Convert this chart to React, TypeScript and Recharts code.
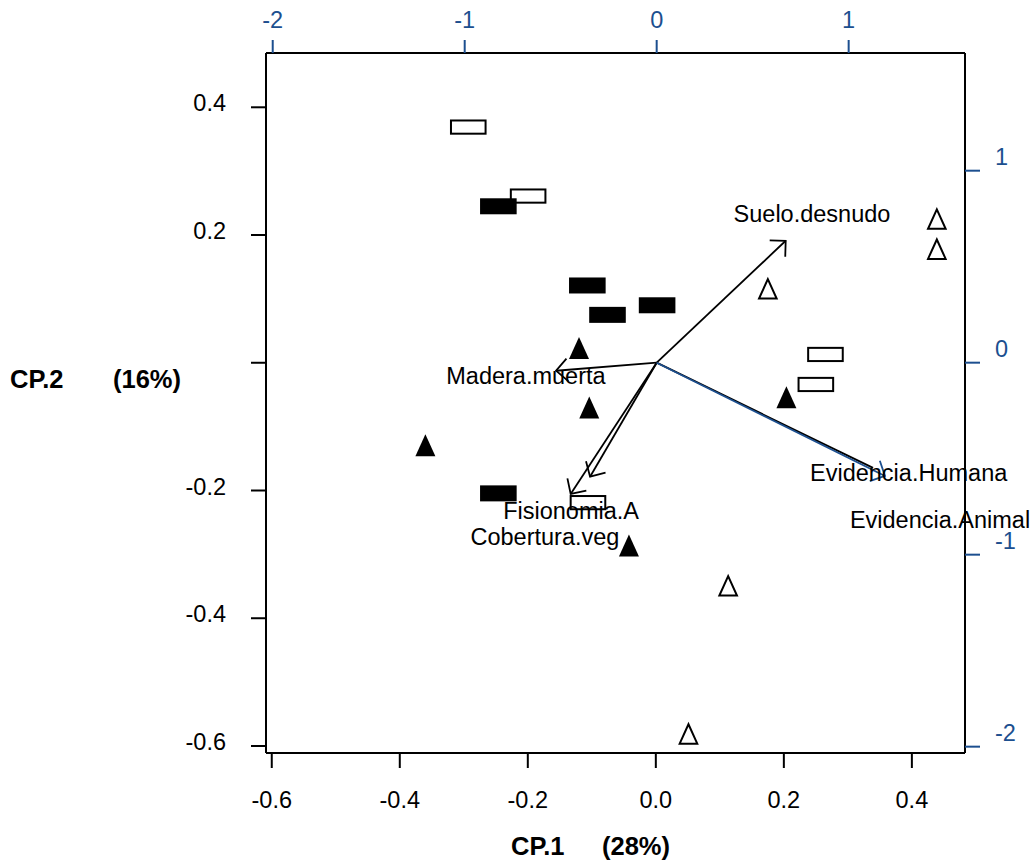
import React from "react";
import { ScatterChart, Scatter, XAxis, YAxis, ReferenceLine, ReferenceDot } from "recharts";

const FONT = "'Liberation Sans', Arial, Helvetica, sans-serif";
const BLUE = "#1c4f8f";
const FS = 23.5;

// axes
const xTicks = [-0.6, -0.4, -0.2, 0, 0.2, 0.4];
const yTicks = [-0.6, -0.4, -0.2, 0, 0.2, 0.4];
const topTicks = [-2, -1, 0, 1];
const rightTicks = [-2, -1, 0, 1];
const xDomain: [number, number] = [-0.609, 0.483];
const yDomain: [number, number] = [-0.611, 0.485];
const x2Domain: [number, number] = [-2.035, 1.606];
const y2Domain: [number, number] = [-2.033, 1.613];

// site scores (CP.1, CP.2)
const openRectX = [-0.293, -0.1995, 0.265, 0.25, -0.106];
const openRectY = [0.369, 0.261, 0.013, -0.034, -0.219];
const filledRectX = [-0.246, -0.107, -0.0755, 0.002, -0.246];
const filledRectY = [0.245, 0.121, 0.075, 0.09, -0.2045];
const filledTriX = [-0.12, -0.104, -0.36, 0.204, -0.042];
const filledTriY = [0.023, -0.07, -0.129, -0.054, -0.286];
const openTriX = [0.439, 0.439, 0.175, 0.113, 0.051];
const openTriY = [0.225, 0.178, 0.116, -0.349, -0.581];

// variable loadings (secondary axes)
const variables = [
  "Suelo.desnudo",
  "Madera.muerta",
  "Fisionomia.A",
  "Cobertura.veg",
  "Evidencia.Humana",
  "Evidencia.Animal",
];
const loadX = [0.672, -0.524, -0.347, -0.448, 1.127, 1.189];
const loadY = [0.635, -0.042, -0.594, -0.684, -0.548, -0.59];
const labelX = [0.809, -0.681, -0.446, -0.582, 1.3125, 1.476];
const labelY = [0.774, -0.069, -0.77, -0.91, -0.576, -0.817];
const arrowColors = ["#000", "#000", "#000", "#000", "#000", BLUE];
const arrowHeads = [true, true, true, true, false, true];

const toPts = (xs: number[], ys: number[]) => xs.map((x, i) => ({ x, y: ys[i] }));
const openRects = toPts(openRectX, openRectY);
const filledRects = toPts(filledRectX, filledRectY);
const filledTris = toPts(filledTriX, filledTriY);
const openTris = toPts(openTriX, openTriY);
const labelPts = variables.map((name, i) => ({ x: labelX[i], y: labelY[i], name }));

const fmt1 = (v: number) => Number(v).toFixed(1);

const BottomTick = (p: any) => {
  const { x, y, payload } = p;
  return (
    <g>
      <line x1={x} x2={x} y1={y} y2={y + 15} stroke="#000" strokeWidth={2} />
      <text x={x} y={y + 47} textAnchor="middle" dominantBaseline="central" fontSize={FS} fontFamily={FONT} fill="#000">
        {fmt1(payload.value)}
      </text>
    </g>
  );
};

const LeftTick = (p: any) => {
  const { x, y, payload } = p;
  return (
    <g>
      <line x1={x - 15} x2={x} y1={y} y2={y} stroke="#000" strokeWidth={2} />
      {payload.value !== 0 && (
        <text x={x - 40} y={y - 4} textAnchor="end" dominantBaseline="central" fontSize={FS} fontFamily={FONT} fill="#000">
          {fmt1(payload.value)}
        </text>
      )}
    </g>
  );
};

const TopTick = (p: any) => {
  const { x, y, payload } = p;
  return (
    <g>
      <line x1={x} x2={x} y1={y - 13} y2={y} stroke={BLUE} strokeWidth={2} />
      <text x={x} y={y - 33} textAnchor="middle" dominantBaseline="central" fontSize={FS} fontFamily={FONT} fill={BLUE}>
        {String(payload.value)}
      </text>
    </g>
  );
};

const RightTick = (p: any) => {
  const { x, y, payload } = p;
  return (
    <g>
      <line x1={x} x2={x + 15} y1={y} y2={y} stroke={BLUE} strokeWidth={2} />
      <text x={x + 30} y={y - 14} textAnchor="start" dominantBaseline="central" fontSize={FS} fontFamily={FONT} fill={BLUE}>
        {String(payload.value)}
      </text>
    </g>
  );
};

const OpenRect = (p: any) => (
  <rect x={p.cx - 17.3} y={p.cy - 6.6} width={34.6} height={13.2} fill="none" stroke="#000" strokeWidth={2} />
);
const FilledRect = (p: any) => (
  <rect x={p.cx - 18.3} y={p.cy - 8} width={36.6} height={16} fill="#000" stroke="none" />
);
const FilledTri = (p: any) => (
  <polygon
    points={`${p.cx},${p.cy - 11} ${p.cx + 10},${p.cy + 11} ${p.cx - 10},${p.cy + 11}`}
    fill="#000"
    stroke="none"
  />
);
const OpenTri = (p: any) => (
  <polygon
    points={`${p.cx},${p.cy - 9.6} ${p.cx + 8.8},${p.cy + 9.8} ${p.cx - 8.8},${p.cy + 9.8}`}
    fill="none"
    stroke="#000"
    strokeWidth={2}
  />
);

const makeLabel = (name: string) => (p: any) => (
  <text x={p.cx} y={p.cy} textAnchor="middle" dominantBaseline="central" fontSize={FS} fontFamily={FONT} fill="#000">
    {name}
  </text>
);

const makeArrow = (color: string, head: boolean) => (p: any) => {
  const { x1, y1, x2, y2 } = p;
  const ang = Math.atan2(y1 - y2, x1 - x2);
  const L = 16;
  const a = Math.PI / 4;
  const ax = x2 + L * Math.cos(ang + a);
  const ay = y2 + L * Math.sin(ang + a);
  const bx = x2 + L * Math.cos(ang - a);
  const by = y2 + L * Math.sin(ang - a);
  return (
    <g>
      <line x1={x1} y1={y1} x2={x2} y2={y2} stroke={color} strokeWidth={1.8} />
      {head && (
        <polyline points={`${ax},${ay} ${x2},${y2} ${bx},${by}`} fill="none" stroke={color} strokeWidth={1.8} />
      )}
    </g>
  );
};

const titleStyle: React.CSSProperties = {
  position: "absolute",
  fontFamily: FONT,
  fontWeight: "bold",
  fontSize: 25.5,
  lineHeight: 1,
  whiteSpace: "nowrap",
  color: "#000",
};

export default function App() {
  return (
    <div style={{ position: "relative", width: 1036, height: 861, background: "#fff" }}>
      <style>{"body{margin:0;}"}</style>
      <ScatterChart width={1036} height={861} margin={{ top: 0, right: 0, bottom: 0, left: 0 }}>
        <XAxis
          xAxisId="b"
          orientation="bottom"
          type="number"
          dataKey="x"
          domain={xDomain}
          ticks={xTicks}
          allowDataOverflow
          interval={0}
          tickSize={0}
          tickMargin={0}
          tickLine={false}
          tick={BottomTick}
          axisLine={{ stroke: "#000", strokeWidth: 2 }}
          height={108}
        />
        <XAxis
          xAxisId="t"
          orientation="top"
          type="number"
          dataKey="x"
          domain={x2Domain}
          ticks={topTicks}
          allowDataOverflow
          interval={0}
          tickSize={0}
          tickMargin={0}
          tickLine={false}
          tick={TopTick}
          axisLine={{ stroke: "#000", strokeWidth: 2 }}
          height={53}
        />
        <YAxis
          yAxisId="l"
          orientation="left"
          type="number"
          dataKey="y"
          domain={yDomain}
          ticks={yTicks}
          allowDataOverflow
          interval={0}
          tickSize={0}
          tickMargin={0}
          tickLine={false}
          tick={LeftTick}
          axisLine={{ stroke: "#000", strokeWidth: 2 }}
          width={266}
        />
        <YAxis
          yAxisId="r"
          orientation="right"
          type="number"
          dataKey="y"
          domain={y2Domain}
          ticks={rightTicks}
          allowDataOverflow
          interval={0}
          tickSize={0}
          tickMargin={0}
          tickLine={false}
          tick={RightTick}
          axisLine={{ stroke: "#000", strokeWidth: 2 }}
          width={71}
        />
        <ReferenceLine
          xAxisId="t"
          yAxisId="r"
          segment={[
            { x: topTicks[0], y: y2Domain[1] },
            { x: topTicks[topTicks.length - 1], y: y2Domain[1] },
          ]}
          stroke={BLUE}
          strokeWidth={1.5}
          ifOverflow="visible"
        />
        <Scatter xAxisId="b" yAxisId="l" data={openRects} shape={OpenRect} isAnimationActive={false} />
        <Scatter xAxisId="b" yAxisId="l" data={filledRects} shape={FilledRect} isAnimationActive={false} />
        <Scatter xAxisId="b" yAxisId="l" data={filledTris} shape={FilledTri} isAnimationActive={false} />
        <Scatter xAxisId="b" yAxisId="l" data={openTris} shape={OpenTri} isAnimationActive={false} />
        {variables.map((v, i) => (
          <ReferenceLine
            key={v}
            xAxisId="t"
            yAxisId="r"
            segment={[
              { x: 0, y: 0 },
              { x: loadX[i], y: loadY[i] },
            ]}
            shape={makeArrow(arrowColors[i], arrowHeads[i])}
            ifOverflow="visible"
          />
        ))}
        {labelPts.map((l) => (
          <ReferenceDot
            key={"lab-" + l.name}
            xAxisId="t"
            yAxisId="r"
            x={l.x}
            y={l.y}
            ifOverflow="visible"
            shape={makeLabel(l.name)}
          />
        ))}
      </ScatterChart>
      <div style={{ ...titleStyle, left: 10, top: 367 }}>CP.2</div>
      <div style={{ ...titleStyle, left: 113, top: 367 }}>(16%)</div>
      <div style={{ ...titleStyle, left: 511, top: 834 }}>CP.1</div>
      <div style={{ ...titleStyle, left: 602, top: 834 }}>(28%)</div>
    </div>
  );
}
